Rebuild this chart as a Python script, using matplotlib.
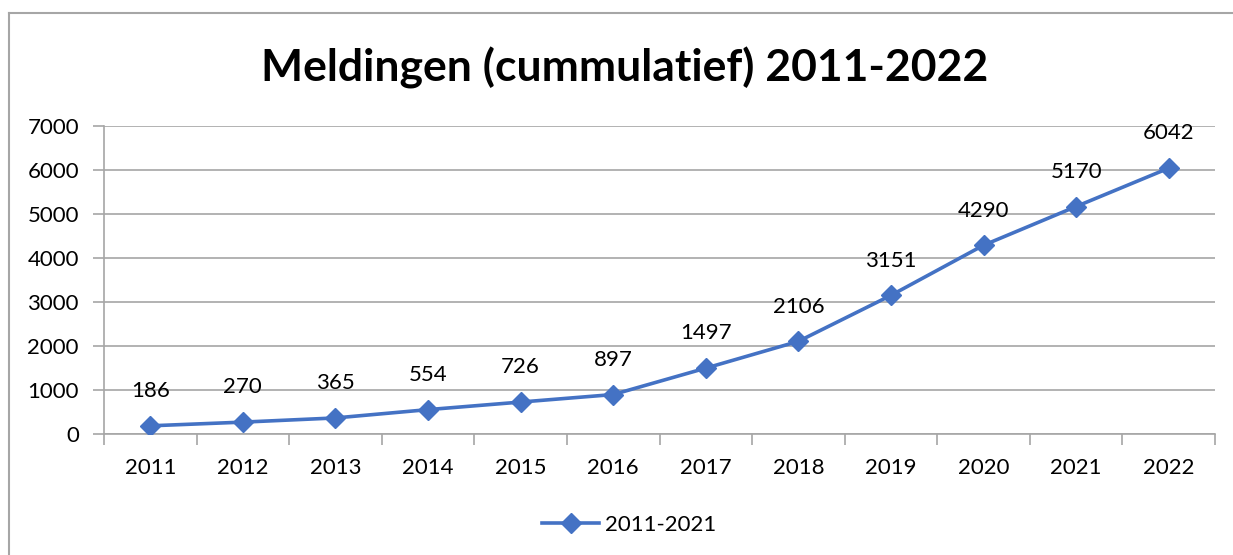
import numpy as np
import matplotlib
matplotlib.use("Agg")
import matplotlib.pyplot as plt
from matplotlib.lines import Line2D

years = ["2011", "2012", "2013", "2014", "2015", "2016",
         "2017", "2018", "2019", "2020", "2021", "2022"]
meldingen = [186, 270, 365, 554, 726, 897, 1497, 2106, 3151, 4290, 5170, 6042]
series_name = "2011-2021"

plt.rcParams['font.family'] = ['Lato', 'DejaVu Sans']
blue = "#4472C4"
grid_col = "#A6A6A6"

W, H = 1233, 555
fig = plt.figure(figsize=(W / 100, H / 100), dpi=100)
ax = fig.add_axes([104 / W, 121 / H, (1215 - 104) / W, (434 - 126) / H])

x = np.arange(len(years))
line, = ax.plot(x, meldingen, color=blue, lw=2.6, marker="D", ms=10,
                label=series_name, zorder=3)
for xi, v in zip(x, meldingen):
    ax.annotate(str(v), (xi, v), xytext=(0, 25), textcoords="offset points",
                ha="center", va="center", fontsize=16)

ax.set_xlim(-0.5, len(years) - 0.5)
ax.set_ylim(0, 7000)
ax.set_yticks(np.arange(0, 7001, 1000))
ax.yaxis.grid(True, color=grid_col, lw=1.2)
ax.set_axisbelow(True)

ax.set_xticks(np.arange(-0.5, len(years), 1))
ax.set_xticklabels([])
ax.set_xticks(x, minor=True)
ax.set_xticklabels(years, minor=True)
ax.tick_params(axis="x", which="major", length=8, color=grid_col, width=1.2)
ax.tick_params(axis="x", which="minor", length=0, pad=17, labelsize=16)
ax.tick_params(axis="y", length=8, color=grid_col, width=1.2, pad=10, labelsize=16)

for s in ["top", "right"]:
    ax.spines[s].set_visible(False)
for s in ["left", "bottom"]:
    ax.spines[s].set_color(grid_col)
    ax.spines[s].set_linewidth(1.2)

fig.text(625 / W, 1 - 68 / H, "Meldingen (cummulatief) 2011-2022",
         ha="center", va="center", fontsize=32, fontweight="bold")

fig.legend(handles=[line], loc="center", bbox_to_anchor=(629 / W, 1 - 525 / H),
           frameon=False, fontsize=16, handlelength=2.6, handletextpad=0.25)

# chart border (only left and top visible in the crop)
fig.add_artist(Line2D([8.5 / W, 8.5 / W], [0, 1 - 13 / H], color=grid_col, lw=1.5,
                      transform=fig.transFigure))
fig.add_artist(Line2D([8.5 / W, 1], [1 - 13 / H, 1 - 13 / H], color=grid_col, lw=1.5,
                      transform=fig.transFigure))

fig.savefig("out.png", dpi=100)
